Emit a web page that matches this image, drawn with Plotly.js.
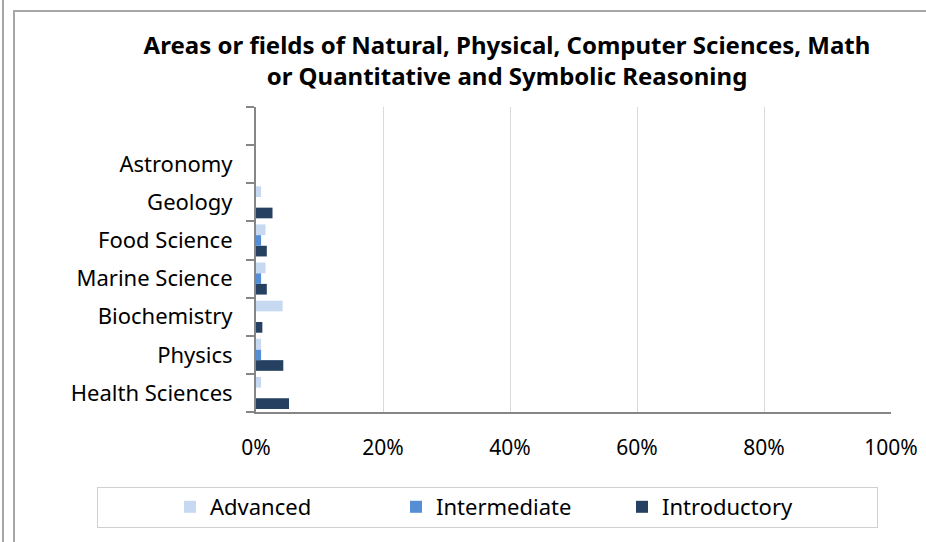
<!DOCTYPE html>
<html>
<head>
<meta charset="utf-8">
<script src="https://cdn.plot.ly/plotly-3.0.1.min.js"></script>
<style>
  html, body { margin: 0; padding: 0; background: #fff; }
  #chart { width: 926px; height: 542px; position: relative; }
  .frame { position: absolute; background: #a6a6a6; pointer-events: none; }
</style>
</head>
<body>
<div id="chart"></div>
<div class="frame" style="left:2px; top:0; width:2px; height:542px;"></div>
<div class="frame" style="left:13px; top:10px; width:2px; height:532px;"></div>
<div class="frame" style="left:13px; top:10px; width:913px; height:2px;"></div>
<div class="frame" style="left:97px; top:487px; width:781px; height:1px; background:#d0d0d0;"></div>
<div class="frame" style="left:97px; top:527px; width:781px; height:1px; background:#d0d0d0;"></div>
<div class="frame" style="left:97px; top:487px; width:1px; height:41px; background:#d0d0d0;"></div>
<div class="frame" style="left:877px; top:487px; width:1px; height:41px; background:#d0d0d0;"></div>
<script>
const categories = ["Health Sciences", "Physics", "Biochemistry", "Marine Science", "Food Science", "Geology", "Astronomy", " "];
const advanced     = [0.008, 0.008, 0.042, 0.015, 0.015, 0.008, 0, 0];
const intermediate = [0,     0.008, 0,     0.008, 0.008, 0,     0, 0];
const introductory = [0.052, 0.043, 0.010, 0.017, 0.017, 0.026, 0, 0];
const seriesNames = ["Advanced", "Intermediate", "Introductory"];
const xTickVals = [0, 0.2, 0.4, 0.6, 0.8, 1.0];
const xTickText = ["0%", "20%", "40%", "60%", "80%", "100%"];

const font = "Noto Sans, Open Sans, sans-serif";

const traces = [
  { name: seriesNames[2], y: categories, x: introductory, type: "bar", orientation: "h",
    marker: { color: "#254061", line: { width: 0 } }, hoverinfo: "x+y" },
  { name: seriesNames[1], y: categories, x: intermediate, type: "bar", orientation: "h",
    marker: { color: "#558ed5", line: { width: 0 } }, hoverinfo: "x+y" },
  { name: seriesNames[0], y: categories, x: advanced, type: "bar", orientation: "h",
    marker: { color: "#c6d9f1", line: { width: 0 } }, hoverinfo: "x+y" }
];

const layout = {
  width: 926, height: 542,
  margin: { l: 256, r: 35, t: 107, b: 130 },
  paper_bgcolor: "#ffffff", plot_bgcolor: "#ffffff",
  font: { family: font, color: "#000000", size: 22 },
  title: {
    text: "<b>Areas or fields of Natural, Physical, Computer Sciences, Math<br>or Quantitative and Symbolic Reasoning</b>",
    x: 0.5475, xanchor: "center", y: 1 - 54/542, yanchor: "top", yref: "container",
    font: { family: font, size: 24, color: "#000000" }
  },
  barmode: "group", bargap: 0.16, bargroupgap: 0,
  xaxis: {
    range: [0, 1], tickvals: xTickVals, ticktext: xTickText,
    showgrid: true, gridcolor: "#d9d9d9", gridwidth: 1,
    showline: true, linecolor: "#868686", linewidth: 2,
    ticks: "", zeroline: false, fixedrange: true,
    tickfont: { family: font, size: 21, color: "#000" }, ticklabelstandoff: 16
  },
  yaxis: {
    type: "category", categoryorder: "array", categoryarray: categories,
    showline: true, linecolor: "#868686", linewidth: 2,
    ticks: "outside", tickson: "boundaries", ticklen: 8, tickwidth: 2, tickcolor: "#868686",
    showgrid: false, zeroline: false, fixedrange: true,
    tickfont: { family: font, size: 22, color: "#000" }, ticklabelstandoff: 17
  },
  showlegend: true,
  legend: {
    orientation: "h", traceorder: "reversed",
    x: (170 - 256) / 635, xanchor: "left", xref: "paper",
    y: (412 - 507) / 305, yref: "paper", yanchor: "middle",
    font: { family: font, size: 22, color: "#000" },
    entrywidth: 181, itemwidth: 30,
    bgcolor: "rgba(0,0,0,0)", borderwidth: 0
  }
};

Plotly.newPlot("chart", traces, layout, { displayModeBar: false, staticPlot: true });
</script>
</body>
</html>
